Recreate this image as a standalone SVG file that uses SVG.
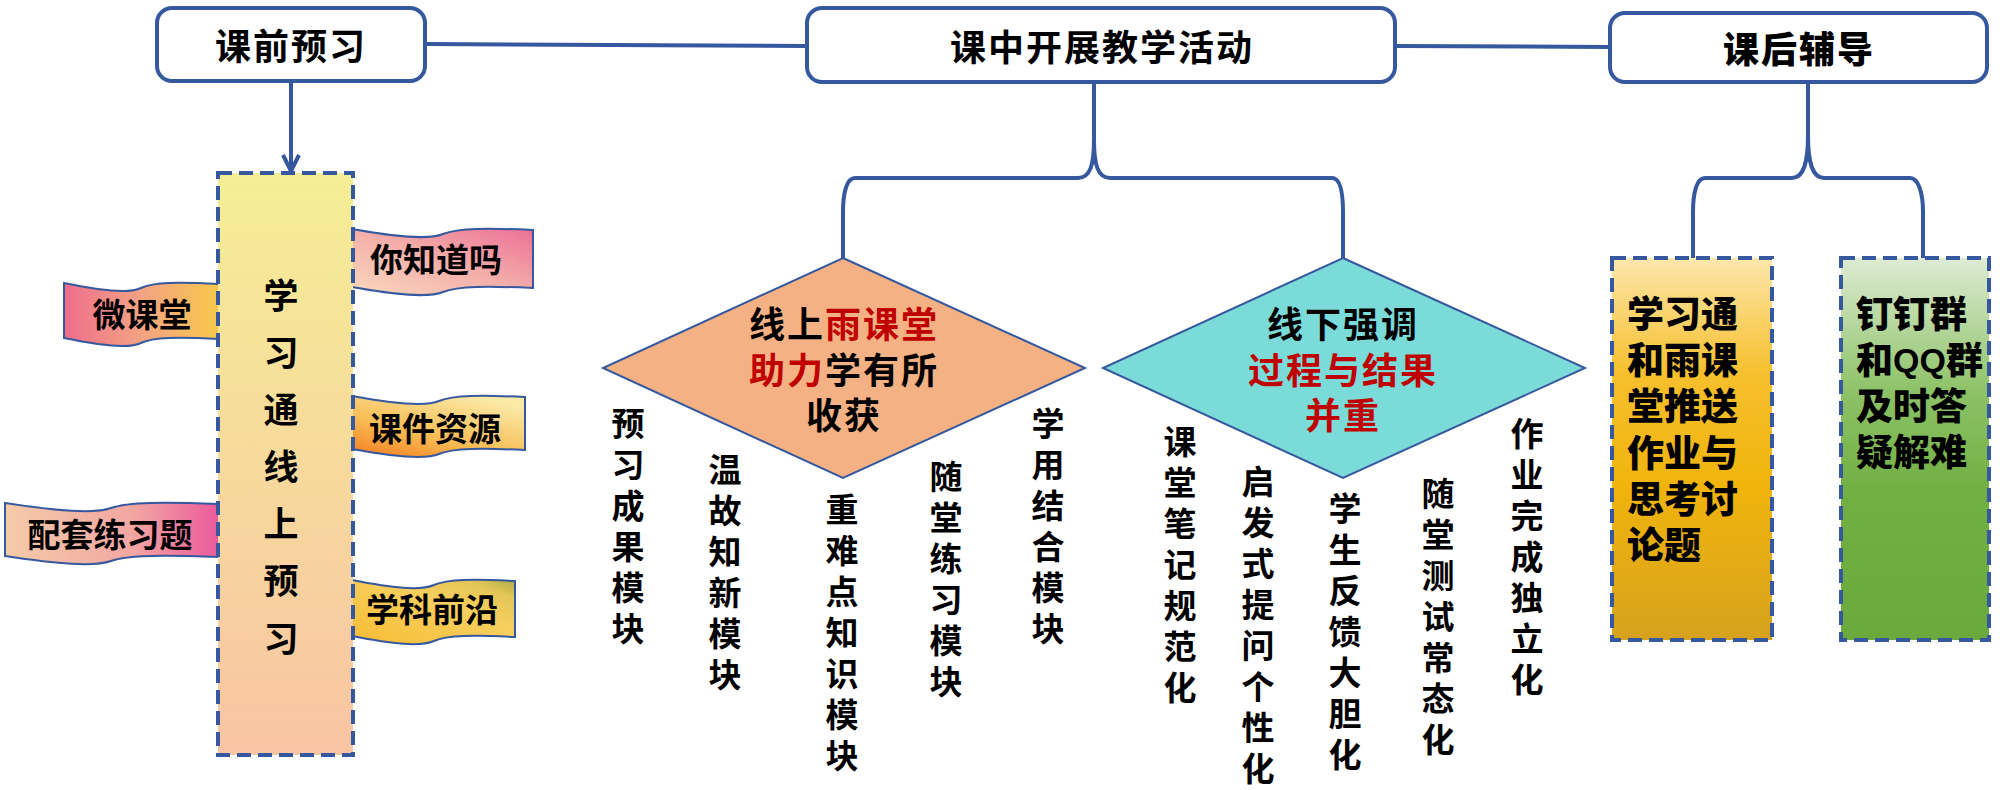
<svg xmlns="http://www.w3.org/2000/svg" width="2000" height="790" viewBox="0 0 2000 790">
<style>
text{font-family:"Noto Sans CJK SC","Noto Sans",sans-serif;font-weight:700;fill:#000;dominant-baseline:central;text-anchor:middle}
.hdr{fill:#fff;stroke:#35589E;stroke-width:4}
.conn{fill:none;stroke:#35589E;stroke-width:4;stroke-linejoin:round}
.dash{stroke:#35589E;stroke-width:4;stroke-dasharray:14 7}
.ban{stroke:#35589E;stroke-width:2}
.dia{stroke:#35589E;stroke-width:2}
.t36{font-size:36px;letter-spacing:2px}
.t33{font-size:33px}
.tb{font-size:37px;font-weight:900;text-anchor:start}
.v{font-size:33px}
.red{fill:#C00000}
.qq{font-family:"Liberation Sans","Noto Sans",sans-serif;font-size:34px;font-weight:700}
</style>
<defs>
<marker id="arr" viewBox="0 0 20 20" refX="18" refY="10" markerWidth="20" markerHeight="20" markerUnits="userSpaceOnUse" orient="auto">
<path d="M2,2 L18,10 L2,18" fill="none" stroke="#35589E" stroke-width="4" stroke-linejoin="round"/>
</marker>
<linearGradient id="gYel" x1="0" y1="0" x2="0" y2="1"><stop offset="0" stop-color="#F5EE96"/><stop offset="0.5" stop-color="#F7DA9C"/><stop offset="1" stop-color="#F9C4A4"/></linearGradient>
<linearGradient id="gOra" x1="0" y1="0" x2="0" y2="1"><stop offset="0" stop-color="#FCE7AC"/><stop offset="0.3" stop-color="#F6C02E"/><stop offset="0.6" stop-color="#F1B40C"/><stop offset="1" stop-color="#D6A21E"/></linearGradient>
<linearGradient id="gGrn" x1="0" y1="0" x2="0" y2="1"><stop offset="0" stop-color="#DDEBD3"/><stop offset="0.35" stop-color="#8DC267"/><stop offset="0.6" stop-color="#72B044"/><stop offset="1" stop-color="#6AA93C"/></linearGradient>
<linearGradient id="gWei" x1="0" y1="0" x2="1" y2="0"><stop offset="0" stop-color="#EE6E8C"/><stop offset="0.5" stop-color="#F3A383"/><stop offset="1" stop-color="#F8C84A"/></linearGradient>
<linearGradient id="gNi" x1="0" y1="1" x2="1" y2="0"><stop offset="0" stop-color="#FAD9BE"/><stop offset="0.5" stop-color="#F4AFAA"/><stop offset="1" stop-color="#EC7095"/></linearGradient>
<linearGradient id="gKe" x1="0" y1="1" x2="0.7" y2="0"><stop offset="0" stop-color="#F57A1E"/><stop offset="0.45" stop-color="#F8BD55"/><stop offset="1" stop-color="#FBE9A6"/></linearGradient>
<linearGradient id="gPei" x1="0" y1="0" x2="1" y2="0"><stop offset="0" stop-color="#F5CBA8"/><stop offset="0.6" stop-color="#F1A6A2"/><stop offset="1" stop-color="#EC5A9C"/></linearGradient>
<linearGradient id="gXue" x1="0" y1="1" x2="1" y2="0"><stop offset="0" stop-color="#F8BC33"/><stop offset="0.6" stop-color="#F7CF5E"/><stop offset="0.85" stop-color="#E3C658"/><stop offset="1" stop-color="#A9AE45"/></linearGradient>
</defs>

<g id="connectors">
<path class="conn" d="M425,44 L807,46"/>
<path class="conn" d="M1395,46 L1610,47"/>
<path class="conn" d="M291,81 L291,171" marker-end="url(#arr)"/>
<path class="conn" d="M1094,82 L1094,140 C1094,165 1090,178 1078,178 L855,178 C847,178 843,192 843,212 L843,258"/>
<path class="conn" d="M1094,140 C1094,165 1098,178 1110,178 L1332,178 C1340,178 1343,192 1343,212 L1343,258"/>
<path class="conn" d="M1808,82 L1808,135 C1808,162 1804,178 1792,178 L1705,178 C1697,178 1693,192 1693,212 L1693,258"/>
<path class="conn" d="M1808,135 C1808,162 1812,178 1824,178 L1910,178 C1918,178 1923,192 1923,212 L1923,258"/>
</g>

<g id="node-kqyx">
<rect class="hdr" x="157" y="8" width="268" height="73" rx="15"/>
<text class="t36" x="291" y="44">课前预习</text>
</g>
<g id="node-kzkz">
<rect class="hdr" x="807" y="8" width="588" height="74" rx="15"/>
<text class="t36" x="1102" y="45">课中开展教学活动</text>
</g>
<g id="node-khfd">
<rect class="hdr" x="1610" y="13" width="377" height="69" rx="15"/>
<text class="t36" x="1799" y="47" style="font-weight:900">课后辅导</text>
</g>

<g id="node-weiketang">
<path class="ban" fill="url(#gWei)" d="M64,283 C102,291 129,294 141,288 C153,282 179,282 219,284 L219,339 C179,337 153,337 141,343 C129,349 102,346 64,338 Z"/>
<text class="t33" x="142" y="313">微课堂</text>
</g>
<g id="node-peitao">
<path class="ban" fill="url(#gPei)" d="M5,503 C58,511 94,514 111,508 C128,502 164,502 219,504 L219,557 C164,555 128,555 111,561 C94,567 58,564 5,556 Z"/>
<text class="t33" x="110" y="533">配套练习题</text>
</g>
<g id="node-nizhidao">
<path class="ban" fill="url(#gNi)" d="M352,229 C397,237 428,240 443,234 C458,228 488,228 533,230 L533,288 C488,286 458,286 443,292 C428,298 397,295 352,287 Z"/>
<text class="t33" x="436" y="258">你知道吗</text>
</g>
<g id="node-kejian">
<path class="ban" fill="url(#gKe)" d="M352,396 C395,404 425,407 439,401 C453,395 482,395 525,397 L525,450 C482,448 453,448 439,454 C425,460 395,457 352,449 Z"/>
<text class="t33" x="435" y="427">课件资源</text>
</g>
<g id="node-xueke">
<path class="ban" fill="url(#gXue)" d="M352,580 C393,588 420,591 434,585 C447,579 474,579 515,581 L515,637 C474,635 447,635 434,641 C420,647 393,644 352,636 Z"/>
<text class="t33" x="432" y="608">学科前沿</text>
</g>

<g id="node-xxt">
<rect class="dash" fill="url(#gYel)" x="218" y="173" width="135" height="582"/>
<text style="font-size:35px">
<tspan x="281" y="293">学</tspan><tspan x="281" y="350">习</tspan><tspan x="281" y="407">通</tspan><tspan x="281" y="464">线</tspan><tspan x="281" y="521">上</tspan><tspan x="281" y="578">预</tspan><tspan x="281" y="636">习</tspan>
</text>
</g>

<g id="node-online">
<path class="dia" fill="#F4B183" d="M843,258 L1085,368 L843,478 L603,368 Z"/>
<text class="t36" x="844" y="322"><tspan>线上</tspan><tspan class="red">雨课堂</tspan></text>
<text class="t36" x="844" y="368"><tspan class="red">助力</tspan><tspan>学有所</tspan></text>
<text class="t36" x="844" y="413">收获</text>
</g>
<g id="node-offline">
<path class="dia" fill="#7ADBD8" d="M1343,258 L1585,368 L1343,478 L1103,368 Z"/>
<text class="t36" x="1343" y="322">线下强调</text>
<text class="t36 red" x="1343" y="368">过程与结果</text>
<text class="t36 red" x="1343" y="413">并重</text>
</g>

<g id="node-m1"><text class="v"><tspan x="628" y="422">预</tspan><tspan x="628" y="463">习</tspan><tspan x="628" y="504">成</tspan><tspan x="628" y="545">果</tspan><tspan x="628" y="586">模</tspan><tspan x="628" y="627">块</tspan></text></g>
<g id="node-m2"><text class="v"><tspan x="725" y="468">温</tspan><tspan x="725" y="509">故</tspan><tspan x="725" y="550">知</tspan><tspan x="725" y="591">新</tspan><tspan x="725" y="632">模</tspan><tspan x="725" y="673">块</tspan></text></g>
<g id="node-m3"><text class="v"><tspan x="842" y="508">重</tspan><tspan x="842" y="549">难</tspan><tspan x="842" y="590">点</tspan><tspan x="842" y="631">知</tspan><tspan x="842" y="672">识</tspan><tspan x="842" y="713">模</tspan><tspan x="842" y="754">块</tspan></text></g>
<g id="node-m4"><text class="v"><tspan x="946" y="475">随</tspan><tspan x="946" y="516">堂</tspan><tspan x="946" y="557">练</tspan><tspan x="946" y="598">习</tspan><tspan x="946" y="639">模</tspan><tspan x="946" y="680">块</tspan></text></g>
<g id="node-m5"><text class="v"><tspan x="1048" y="422">学</tspan><tspan x="1048" y="463">用</tspan><tspan x="1048" y="504">结</tspan><tspan x="1048" y="545">合</tspan><tspan x="1048" y="586">模</tspan><tspan x="1048" y="627">块</tspan></text></g>

<g id="node-o1"><text class="v"><tspan x="1180" y="440">课</tspan><tspan x="1180" y="481">堂</tspan><tspan x="1180" y="522">笔</tspan><tspan x="1180" y="563">记</tspan><tspan x="1180" y="604">规</tspan><tspan x="1180" y="645">范</tspan><tspan x="1180" y="686">化</tspan></text></g>
<g id="node-o2"><text class="v"><tspan x="1258" y="480">启</tspan><tspan x="1258" y="521">发</tspan><tspan x="1258" y="562">式</tspan><tspan x="1258" y="603">提</tspan><tspan x="1258" y="644">问</tspan><tspan x="1258" y="685">个</tspan><tspan x="1258" y="726">性</tspan><tspan x="1258" y="767">化</tspan></text></g>
<g id="node-o3"><text class="v"><tspan x="1345" y="507">学</tspan><tspan x="1345" y="548">生</tspan><tspan x="1345" y="589">反</tspan><tspan x="1345" y="630">馈</tspan><tspan x="1345" y="671">大</tspan><tspan x="1345" y="712">胆</tspan><tspan x="1345" y="753">化</tspan></text></g>
<g id="node-o4"><text class="v"><tspan x="1438" y="492">随</tspan><tspan x="1438" y="533">堂</tspan><tspan x="1438" y="574">测</tspan><tspan x="1438" y="615">试</tspan><tspan x="1438" y="656">常</tspan><tspan x="1438" y="697">态</tspan><tspan x="1438" y="738">化</tspan></text></g>
<g id="node-o5"><text class="v"><tspan x="1527" y="432">作</tspan><tspan x="1527" y="473">业</tspan><tspan x="1527" y="514">完</tspan><tspan x="1527" y="555">成</tspan><tspan x="1527" y="596">独</tspan><tspan x="1527" y="637">立</tspan><tspan x="1527" y="678">化</tspan></text></g>

<g id="node-push">
<rect class="dash" fill="url(#gOra)" x="1612" y="258" width="160" height="382"/>
<text class="tb" x="1627" y="312">学习通</text>
<text class="tb" x="1627" y="358">和雨课</text>
<text class="tb" x="1627" y="404">堂推送</text>
<text class="tb" x="1627" y="451">作业与</text>
<text class="tb" x="1627" y="497">思考讨</text>
<text class="tb" x="1627" y="543">论题</text>
</g>
<g id="node-qq">
<rect class="dash" fill="url(#gGrn)" x="1841" y="258" width="148" height="382"/>
<text class="tb" x="1856" y="312">钉钉群</text>
<text class="tb" x="1856" y="358">和<tspan class="qq" dy="2">QQ</tspan><tspan dy="-2">群</tspan></text>
<text class="tb" x="1856" y="404">及时答</text>
<text class="tb" x="1856" y="450">疑解难</text>
</g>
</svg>
